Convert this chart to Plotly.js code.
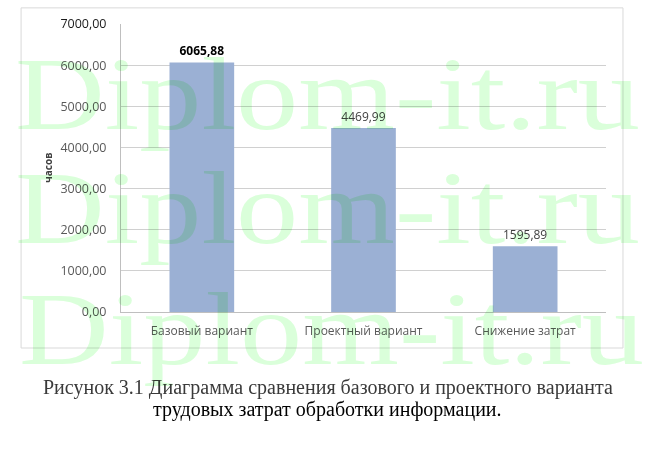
<!DOCTYPE html>
<html>
<head>
<meta charset="utf-8">
<script src="https://cdn.plot.ly/plotly-3.0.1.min.js"></script>
<style>
  html, body { margin: 0; padding: 0; background: #ffffff; }
  #wrap { position: relative; width: 645px; height: 460px; overflow: hidden; }
  #chart { position: absolute; left: 0; top: 0; width: 645px; height: 460px; }
  .wm {
    position: absolute; left: 0; white-space: nowrap;
    font-family: "Liberation Serif", "Times New Roman", serif;
    font-size: 104px; line-height: 1; color: rgb(218,255,218);
    mix-blend-mode: multiply; pointer-events: none;
    transform-origin: 0 0;
  }
</style>
</head>
<body>
<div id="wrap">
  <div id="chart"></div>
</div>
<script>
// ---- data ----
const categories = ["Базовый вариант", "Проектный вариант", "Снижение затрат"];
const values = [6065.88, 4469.99, 1595.89];
const tickValues = [0, 1000, 2000, 3000, 4000, 5000, 6000, 7000];
const tickLabels = ["0,00", "1000,00", "2000,00", "3000,00", "4000,00", "5000,00", "6000,00", "<span style='color:#1a1a1a'>7000,00</span>"];
const yTitle = "часов";
const captionLine1 = "Рисунок 3.1 Диаграмма сравнения базового и проектного варианта";
const captionLine2 = "трудовых затрат обработки информации.";
const watermarkText = "Diplom-it.ru";

const fmt = v => v.toFixed(2).replace(".", ",");
const labelText = values.map((v, i) => i === 0 ? "<b>" + fmt(v) + "</b>" : fmt(v));
const labelColors = values.map((v, i) => i === 0 ? "#000000" : "#404040");

const trace = {
  type: "bar",
  x: categories,
  y: values,
  text: labelText,
  textposition: "outside",
  cliponaxis: false,
  textfont: { family: "Open Sans, Noto Sans, sans-serif", size: 12, color: labelColors },
  marker: { color: "#9BB0D4", line: { width: 0 } },
  hoverinfo: "none"
};

const layout = {
  width: 645, height: 460,
  margin: { l: 121, r: 39, t: 24, b: 148 },
  paper_bgcolor: "rgba(0,0,0,0)",
  plot_bgcolor: "rgba(0,0,0,0)",
  separators: ", ",
  showlegend: false,
  bargap: 0.6,
  font: { family: "Open Sans, Noto Sans, sans-serif", size: 12, color: "#595959" },
  xaxis: {
    type: "category",
    showgrid: false,
    showline: true, linecolor: "#bfbfbf", linewidth: 1,
    ticks: "",
    ticklabelstandoff: 8,
    tickfont: { size: 12, color: "#595959" },
    fixedrange: true
  },
  yaxis: {
    range: [0, 7000],
    tickvals: tickValues,
    ticktext: tickLabels,
    showgrid: true, gridcolor: "#d0d0d0", gridwidth: 1,
    showline: true, linecolor: "#bfbfbf", linewidth: 1,
    zeroline: false,
    ticks: "",
    ticklabelstandoff: 11,
    tickfont: { size: 12.5, color: "#595959" },
    fixedrange: true
  },
  shapes: [{
    type: "rect", xref: "paper", yref: "paper",
    x0: -0.206, x1: 1.035, y0: -0.125, y1: 1.056,
    line: { color: "#d9d9d9", width: 1 }, fillcolor: "rgba(0,0,0,0)", layer: "below"
  }],
  annotations: [
    {
      text: "<b>" + yTitle + "</b>", textangle: -90,
      xref: "paper", yref: "paper", x: -0.151, y: 0.5,
      xanchor: "center", yanchor: "middle", showarrow: false,
      font: { family: "Open Sans, Noto Sans, sans-serif", size: 10, color: "#404040" }
    },
    {
      text: captionLine1,
      xref: "paper", yref: "paper", x: 0.4268, y: -0.262,
      xanchor: "center", yanchor: "middle", showarrow: false,
      font: { family: "Liberation Serif, Times New Roman, serif", size: 20, color: "#3a3a3a" }
    },
    {
      text: captionLine2,
      xref: "paper", yref: "paper", x: 0.4268, y: -0.340,
      xanchor: "center", yanchor: "middle", showarrow: false,
      font: { family: "Liberation Serif, Times New Roman, serif", size: 20, color: "#000000" }
    }
  ]
};

Plotly.newPlot("chart", [trace], layout, { staticPlot: true, displayModeBar: false }).then(() => {
  // watermark overlay (three rows), multiply-blended like the reference
  const wrap = document.getElementById("wrap");
  const rows = [{ left: 15, base: 135 }, { left: 15, base: 249 }, { left: 19, base: 370 }];
  rows.forEach(r => {
    const d = document.createElement("div");
    d.className = "wm";
    d.textContent = watermarkText;
    wrap.appendChild(d);
    const w = d.getBoundingClientRect().width;
    const sx = 625 / w;
    d.style.top = (r.base - 104 * 0.891) + "px";
    d.style.left = r.left + "px";
    d.style.transform = "scaleX(" + sx + ")";
  });
});
</script>
</body>
</html>
